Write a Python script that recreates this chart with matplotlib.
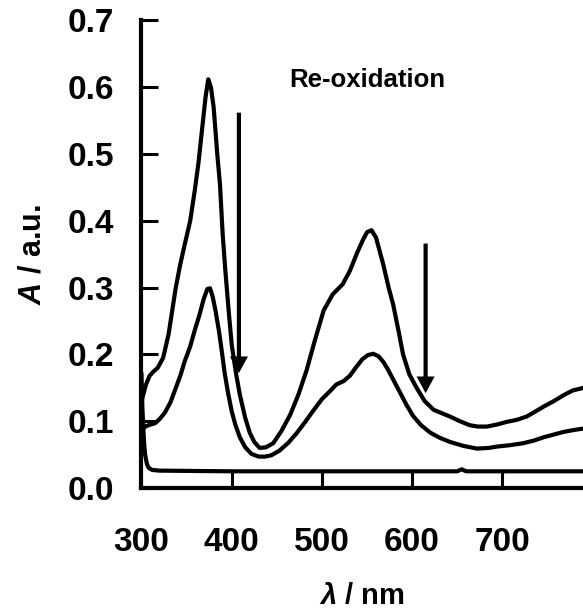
import matplotlib
matplotlib.use("Agg")
import matplotlib.pyplot as plt

plt.rcParams['font.family'] = ['Liberation Sans', 'DejaVu Sans']
plt.rcParams['font.weight'] = 'bold'
plt.rcParams['mathtext.fontset'] = 'custom'
plt.rcParams['mathtext.it'] = 'Liberation Sans:bold:italic'
plt.rcParams['mathtext.rm'] = 'Liberation Sans:bold'
plt.rcParams['mathtext.bf'] = 'Liberation Sans:bold'

# spectrum before re-oxidation (upper curve)
wl_1 = [300, 305, 309, 313, 318, 324, 330, 334, 338, 343, 348, 354, 359, 363, 367,
        371, 374, 377, 380, 384, 387, 390, 393, 397, 400, 405, 409, 415, 420, 425,
        431, 438, 446, 455, 465, 474, 483, 492, 502, 512, 523, 531, 539, 545, 550,
        555, 560, 564, 568, 574, 579, 585, 590, 597, 605, 614, 624, 633, 642, 653,
        664, 673, 683, 694, 705, 716, 727, 736, 746, 757, 768, 778, 790]
abs_1 = [0.13, 0.155, 0.168, 0.174, 0.180, 0.195, 0.23, 0.265, 0.30, 0.335, 0.365,
         0.40, 0.445, 0.485, 0.535, 0.585, 0.612, 0.60, 0.57, 0.50, 0.455, 0.38,
         0.325, 0.26, 0.215, 0.17, 0.14, 0.105, 0.083, 0.069, 0.060, 0.061, 0.067,
         0.085, 0.11, 0.14, 0.176, 0.22, 0.266, 0.29, 0.305, 0.325, 0.352, 0.37,
         0.383, 0.386, 0.375, 0.355, 0.335, 0.30, 0.275, 0.235, 0.20, 0.17, 0.15,
         0.13, 0.117, 0.112, 0.107, 0.10, 0.094, 0.092, 0.092, 0.095, 0.099, 0.102,
         0.107, 0.114, 0.122, 0.130, 0.139, 0.146, 0.150]

# intermediate spectrum
wl_2 = [300, 304, 310, 315, 320, 326, 332, 337, 343, 348, 354, 359, 364, 369, 373,
        376, 379, 382, 386, 389, 392, 396, 400, 404, 409, 415, 422, 430, 437, 444,
        453, 463, 472, 481, 490, 500, 509, 516, 524, 531, 538, 545, 551, 557, 563,
        568, 573, 580, 587, 594, 601, 610, 620, 631, 642, 657, 672, 685, 694, 708,
        723, 735, 746, 757, 768, 780, 790]
abs_2 = [0.085, 0.092, 0.095, 0.097, 0.103, 0.113, 0.128, 0.146, 0.168, 0.19, 0.212,
         0.236, 0.258, 0.283, 0.298, 0.299, 0.286, 0.266, 0.234, 0.205, 0.174, 0.142,
         0.115, 0.095, 0.076, 0.061, 0.051, 0.047, 0.047, 0.049, 0.056, 0.068, 0.082,
         0.098, 0.115, 0.133, 0.145, 0.155, 0.160, 0.168, 0.181, 0.193, 0.199, 0.201,
         0.197, 0.189, 0.178, 0.160, 0.142, 0.124, 0.108, 0.094, 0.083, 0.075, 0.069,
         0.063, 0.059, 0.060, 0.062, 0.064, 0.067, 0.071, 0.076, 0.080, 0.084, 0.087,
         0.089]

# final (baseline) spectrum
wl_3 = [300, 301, 302, 303, 304, 306, 308, 312, 320, 400, 500, 600, 650, 655, 660,
        700, 790]
abs_3 = [0.17, 0.12, 0.09, 0.065, 0.05, 0.036, 0.03, 0.027, 0.026, 0.025, 0.025,
         0.025, 0.025, 0.028, 0.025, 0.025, 0.025]

x_ticks = [300, 400, 500, 600, 700]
y_ticks = [0.0, 0.1, 0.2, 0.3, 0.4, 0.5, 0.6, 0.7]

fig = plt.figure(figsize=(5.83, 6.15), dpi=100)
ax = fig.add_axes([0.2427, 0.2065, 0.7573, 0.7602])

for wl, a in [(wl_1, abs_1), (wl_2, abs_2), (wl_3, abs_3)]:
    ax.plot(wl, a, color='black', lw=3.0, solid_joinstyle='round')

# arrows
ax.annotate('', xy=(408, 0.172), xytext=(408, 0.562),
            arrowprops=dict(width=3, headwidth=13, headlength=12,
                            facecolor='black', edgecolor='none', shrink=0))
ax.annotate('', xy=(615, 0.142), xytext=(615, 0.366),
            arrowprops=dict(width=3, headwidth=13, headlength=12,
                            facecolor='black', edgecolor='none', shrink=0))

ax.text(550, 0.611, 'Re-oxidation', ha='center', va='center',
        fontsize=18.5, fontweight='bold')

ax.set_xlim(300, 789.5)
ax.set_ylim(0, 0.7)
ax.set_xticks(x_ticks)
ax.set_yticks(y_ticks)
ax.set_yticklabels([f'{v:.1f}' for v in y_ticks])

for s in ['top', 'right']:
    ax.spines[s].set_visible(False)
for s in ['left', 'bottom']:
    ax.spines[s].set_linewidth(3)

ax.tick_params(direction='in', length=12, width=2.2, labelsize=24)
ax.tick_params(axis='x', pad=28)
ax.tick_params(axis='y', pad=20)

ax.set_xlabel(r'$\lambda$ / nm', fontsize=21, fontweight='bold', labelpad=17)
ax.set_ylabel(r'$A$ / a.u.', fontsize=22, fontweight='bold', labelpad=14)

fig.savefig('out.png', dpi=100)
